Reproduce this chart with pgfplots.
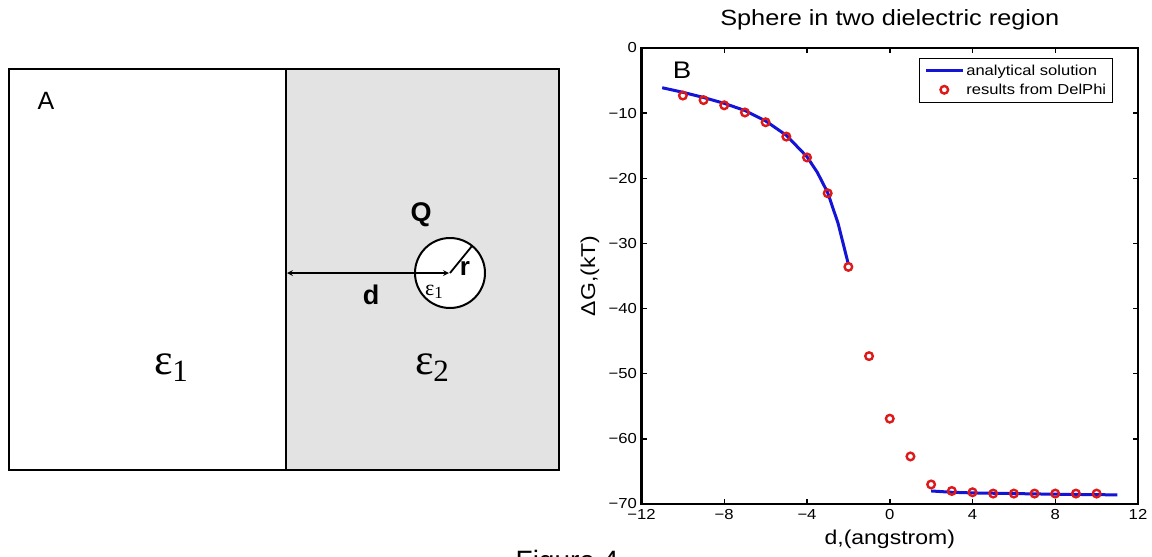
\documentclass[border=0pt]{standalone}
\usepackage{fontspec}
\setmainfont{Liberation Sans}
\newfontfamily\pf{Liberation Sans}[FakeStretch=1.15]
\newfontfamily\ser{Liberation Serif}
\usepackage{pgfplots}
\pgfplotsset{compat=1.18}
\definecolor{lgray}{RGB}{227,227,227}
\definecolor{mblue}{RGB}{20,20,215}
\definecolor{mred}{RGB}{222,25,25}
\begin{document}
\begin{tikzpicture}[x=1pt,y=1pt]
\useasboundingbox (0,0) rectangle (1152,557);
% ---- Panel A: schematic, in pixel coordinates ----
\begin{axis}[at={(0pt,0pt)}, anchor=south west, width=1152pt, height=557pt,
  scale only axis, xmin=0, xmax=1152, ymin=0, ymax=557, y dir=reverse,
  hide axis, clip=false]
\addplot[draw=none, fill=lgray] coordinates {(286,69) (559,69) (559,470) (286,470)} -- cycle;
\addplot[black, line width=2pt] coordinates {(9,69) (559,69) (559,470) (9,470)} -- cycle;
\addplot[black, line width=2pt] coordinates {(286,69) (286,470)};
\draw[black, line width=2pt, fill=white] (axis cs:450,273) circle[radius=35];
\draw[black, line width=1.6pt, <->, >=stealth] (axis cs:287,273) -- (axis cs:449,273);
\draw[black, line width=1.8pt] (axis cs:450,273) -- (axis cs:472,246);
\node[font=\fontsize{25}{28}\selectfont] at (axis cs:46,101) {A};
\node[font=\bfseries\fontsize{27}{30}\selectfont] at (axis cs:421,215) {Q};
\node[font=\bfseries\fontsize{26}{28}\selectfont] at (axis cs:465,268) {r};
\node[font=\bfseries\fontsize{27}{30}\selectfont] at (axis cs:371,295) {d};
\node[font=\ser\fontsize{22}{24}\selectfont] at (axis cs:434,292) {ε\raisebox{-3pt}{\fontsize{17}{18}\selectfont 1}};
\node[font=\ser\fontsize{44}{48}\selectfont] at (axis cs:171,368) {ε\raisebox{-7pt}{\fontsize{31}{33}\selectfont 1}};
\node[font=\ser\fontsize{44}{48}\selectfont] at (axis cs:432,368) {ε\raisebox{-7pt}{\fontsize{31}{33}\selectfont 2}};
\node[font=\fontsize{28}{30}\selectfont, anchor=north, inner sep=0pt] at (axis cs:567,550) {Figure 4};
\end{axis}
% ---- Panel B: the plot ----
\begin{axis}[at={(641.5pt,53pt)}, anchor=south west, width=496.5pt, height=456pt,
  scale only axis, xmin=-12, xmax=12, ymin=-70, ymax=0,
  xtick={-12,-8,-4,0,4,8,12}, xticklabels={−12,−8,−4,0,4,8,12},
  ytick={-70,-60,-50,-40,-30,-20,-10,0},
  yticklabels={−70,−60,−50,−40,−30,−20,−10,0},
  tick align=inside, major tick length=5pt,
  axis line style={line width=2.2pt},
  every tick/.style={black, line width=1.5pt},
  tick label style={font=\pf\fontsize{14.5}{16}\selectfont},
  xticklabel style={yshift=-2pt},
  yticklabel style={xshift=-1pt},
  title={Sphere in two dielectric region},
  title style={font=\pf\fontsize{22}{24}\selectfont, at={(0.5,1)}, anchor=center, yshift=22pt},
  xlabel={d,(angstrom)},
  xlabel style={font=\pf\fontsize{20}{22}\selectfont, at={(0.5,0)}, anchor=center, yshift=-35pt},
  ylabel={ΔG,(kT)},
  ylabel style={font=\pf\fontsize{20}{22}\selectfont, at={(-0.104,0.5)}, anchor=center},
  legend style={at={(0.9497,0.978)}, anchor=north east, draw=black, line width=0.7pt,
    font=\pf\fontsize{14.4}{16}\selectfont, row sep=4pt, inner xsep=5pt, inner ysep=5pt,
    nodes={inner sep=1.5pt}, cells={anchor=west}},
  legend image code/.code={\draw[mark repeat=2, mark phase=2, #1] plot coordinates {(0pt,0pt) (18pt,0pt) (37pt,0pt)};},
  clip=false]
\addplot[mblue, line width=3pt] coordinates {
 (-11,-6.1) (-10,-6.8) (-9,-7.6) (-8,-8.5) (-7,-9.6) (-6,-11.2) (-5,-13.4)
 (-4,-16.7) (-3.5,-19.1) (-3,-22.2) (-2.5,-26.9) (-2,-33.2)};
\addlegendentry{analytical solution\hspace*{8pt}}
\addplot[mred, only marks, mark=o, mark size=3.8pt, mark options={line width=2.4pt}] coordinates {
 (-10,-7.3) (-9,-8.0) (-8,-8.8) (-7,-9.9) (-6,-11.4) (-5,-13.6) (-4,-16.8)
 (-3,-22.3) (-2,-33.6) (-1,-47.3) (0,-56.9) (1,-62.7) (2,-67.0) (3,-68.0)
 (4,-68.2) (5,-68.4) (6,-68.4) (7,-68.4) (8,-68.4) (9,-68.4) (10,-68.4)};
\addlegendentry{results from DelPhi}
\addplot[mblue, line width=3pt, forget plot] coordinates {
 (2,-68.0) (3,-68.2) (4,-68.3) (6,-68.4) (8,-68.5) (11,-68.6)};
\node[font=\pf\fontsize{24}{26}\selectfont] at (axis cs:-10.04,-3.4) {B};
\end{axis}
\end{tikzpicture}
\end{document}
